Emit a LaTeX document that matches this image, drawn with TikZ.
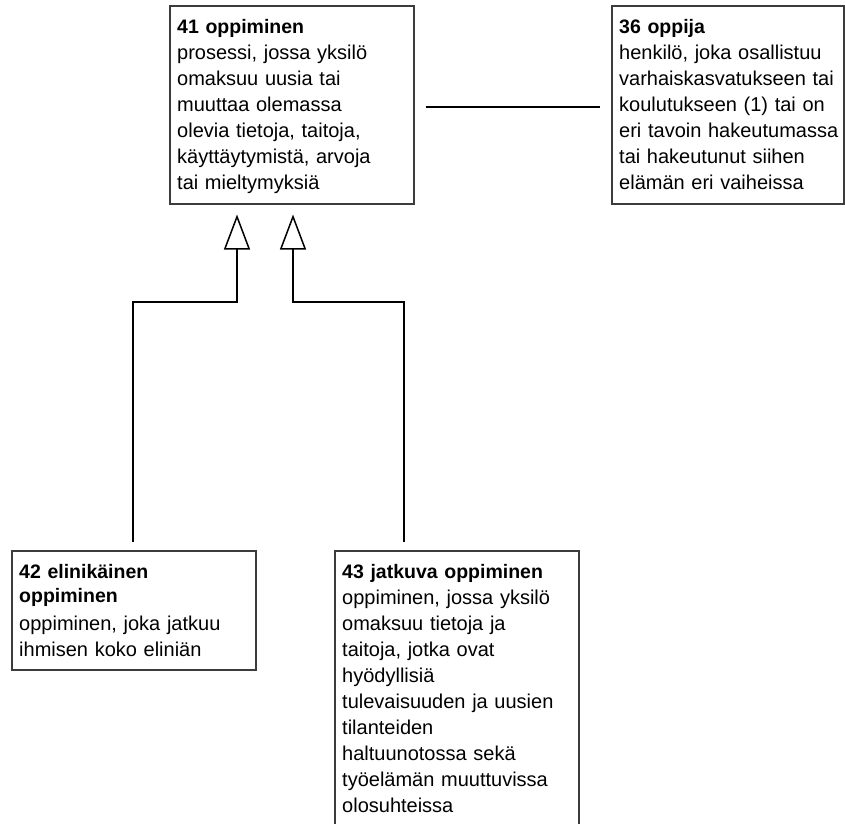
\documentclass[tikz,border=0pt]{standalone}
\usepackage{fontspec}
\setmainfont{Liberation Sans}
\usetikzlibrary{arrows.meta,calc}
\definecolor{boxgray}{RGB}{60,60,60}
\newcommand{\ttl}[1]{{\fontsize{19.5}{26}\selectfont\bfseries #1}}
\begin{document}
\begin{tikzpicture}[x=1pt,y=-1pt,
  box/.style={draw=boxgray, line width=1.5pt, inner sep=0pt, anchor=north west, minimum width=244pt},
  txt/.style={anchor=north west, inner sep=0pt, text width=230pt, align=left, font=\fontsize{20}{26}\selectfont},
  conn/.style={draw=black, line width=1.5pt},
  gen/.style={conn, -{Triangle[open,length=35pt,width=26pt]}}]
\useasboundingbox (0,0) rectangle (845,823);
\fill[white] (0,0) rectangle (845,823);

\node[box, minimum height=198pt] (b41) at (169,5) {};
\node[txt] (t41) at ($(b41.north west)+(8,9.8)$) {\strut\ttl{41 oppiminen}\\
prosessi, jossa yksilö\\
omaksuu uusia tai\\
muuttaa olemassa\\
olevia tietoja, taitoja,\\
käyttäytymistä, arvoja\\
tai mieltymyksiä};

\node[box, minimum width=232pt, minimum height=198pt] (b36) at (611,5) {};
\node[txt] (t36) at ($(b36.north west)+(8,9.8)$) {\strut\ttl{36 oppija}\\
henkilö, joka osallistuu\\
varhaiskasvatukseen tai\\
koulutukseen (1) tai on\\
eri tavoin hakeutumassa\\
tai hakeutunut siihen\\
elämän eri vaiheissa};

\node[box, minimum height=119pt] (b42) at (11,550) {};
\node[txt] (t42) at ($(b42.north west)+(8,9.8)$) {\strut\ttl{42 elinikäinen}\\[-2pt]
\ttl{oppiminen}\\[2pt]
oppiminen, joka jatkuu\\
ihmisen koko eliniän};

\node[box, minimum height=300pt] (b43) at (334,550) {};
\node[txt] (t43) at ($(b43.north west)+(8,9.8)$) {\strut\ttl{43 jatkuva oppiminen}\\
oppiminen, jossa yksilö\\
omaksuu tietoja ja\\
taitoja, jotka ovat\\
hyödyllisiä\\
tulevaisuuden ja uusien\\
tilanteiden\\
haltuunotossa sekä\\
työelämän muuttuvissa\\
olosuhteissa};

\coordinate (s42) at ($(b42.north west)+(122,-8)$);
\coordinate (e41a) at ($(b41.south west)+(68,10)$);
\coordinate (s43) at ($(b43.north west)+(70,-8)$);
\coordinate (e41b) at ($(b41.south west)+(124,10)$);

\draw[gen] (s42) -- ++(0,-240) -| (e41a);
\draw[gen] (s43) -- ++(0,-240) -| (e41b);
\draw[conn, shorten <=11pt, shorten >=11pt] ([yshift=-2pt]b41.east) -- ([yshift=-2pt]b36.west);
\end{tikzpicture}
\end{document}
